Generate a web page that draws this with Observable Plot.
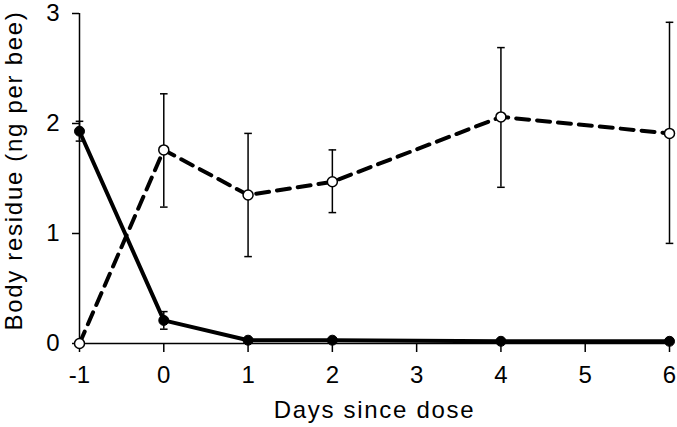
<!DOCTYPE html>
<html>
<head>
<meta charset="utf-8">
<script src="https://cdn.jsdelivr.net/npm/d3@7"></script>
<script src="https://cdn.jsdelivr.net/npm/@observablehq/plot@0.6"></script>
<style>
  html, body { margin: 0; padding: 0; background: #fff; }
</style>
</head>
<body>
<div id="chart"></div>
<script>
// Data
const days = [-1, 0, 1, 2, 4, 6];
const solidMean = [1.93, 0.21, 0.03, 0.03, 0.02, 0.02];
const solidLow  = [1.84, 0.13, 0.03, 0.03, 0.02, 0.02];
const solidHigh = [2.02, 0.29, 0.03, 0.03, 0.02, 0.02];
const openMean  = [0.00, 1.76, 1.35, 1.47, 2.06, 1.91];
const openLow   = [0.00, 1.24, 0.79, 1.19, 1.42, 0.91];
const openHigh  = [0.00, 2.27, 1.91, 1.76, 2.69, 2.92];
const xTicks = [-1, 0, 1, 2, 3, 4, 5, 6];
const yTicks = [0, 1, 2, 3];
const xLabel = "Days since dose";
const yLabel = "Body residue (ng per bee)";

const solid = days.map((d, i) => ({day: d, mean: solidMean[i], lo: solidLow[i], hi: solidHigh[i]}));
const open = days.map((d, i) => ({day: d, mean: openMean[i], lo: openLow[i], hi: openHigh[i]}));
const bars = [...solid, ...open].filter(d => d.hi - d.lo > 0.02);

const capSymbol = {
  draw(context, size) {
    const w = Math.sqrt(size / Math.PI);
    context.moveTo(-w, 0);
    context.lineTo(w, 0);
  }
};

const chart = Plot.plot({
  width: 677,
  height: 427,
  marginLeft: 79,
  marginRight: 8,
  marginTop: 13,
  marginBottom: 84,
  x: {domain: [-1, 6]},
  y: {domain: [0, 3]},
  style: {fontFamily: "'Liberation Sans', Arial, sans-serif", fontSize: "24px", color: "#000", background: "#fff", overflow: "visible"},
  marks: [
    Plot.axisX({ticks: xTicks, tickSize: 9, tickPadding: 13, tickFormat: d => String(d), label: null, stroke: "#000", strokeWidth: 1.5}),
    Plot.axisY({ticks: yTicks, tickSize: 7, tickPadding: 13, tickFormat: d => String(d), label: null, stroke: "#000", strokeWidth: 1.5}),
    Plot.ruleY([0], {stroke: "#000", strokeWidth: 1.5}),
    Plot.ruleX([-1], {stroke: "#000", strokeWidth: 1.5}),
    Plot.ruleX(bars, {x: "day", y1: "lo", y2: "hi", stroke: "#000", strokeWidth: 1.5}),
    Plot.dot(bars, {x: "day", y: "lo", symbol: capSymbol, r: 3.8, stroke: "#000", strokeWidth: 1.5, fill: "none"}),
    Plot.dot(bars, {x: "day", y: "hi", symbol: capSymbol, r: 3.8, stroke: "#000", strokeWidth: 1.5, fill: "none"}),
    Plot.line(open, {x: "day", y: "mean", stroke: "#000", strokeWidth: 4, strokeDasharray: "13,8"}),
    Plot.line(solid, {x: "day", y: "mean", stroke: "#000", strokeWidth: 4}),
    Plot.dot(solid, {x: "day", y: "mean", r: 5, fill: "#000", stroke: "#000", strokeWidth: 1}),
    Plot.dot(open, {x: "day", y: "mean", r: 5, fill: "#fff", stroke: "#000", strokeWidth: 1.5}),
    Plot.text([xLabel], {frameAnchor: "bottom", dy: 67, lineAnchor: "middle", fontSize: 24, fill: "#000"}),
    Plot.text([yLabel], {frameAnchor: "left", dx: -65, dy: -8, rotate: -90, lineAnchor: "middle", textAnchor: "middle", fontSize: 24, fill: "#000"})
  ]
});
// widen the axis-title letter spacing as in the reference
chart.querySelectorAll("text").forEach(t => {
  if (t.textContent === xLabel || t.textContent === yLabel) t.setAttribute("letter-spacing", "1.7");
});
document.getElementById("chart").appendChild(chart);
</script>
</body>
</html>
